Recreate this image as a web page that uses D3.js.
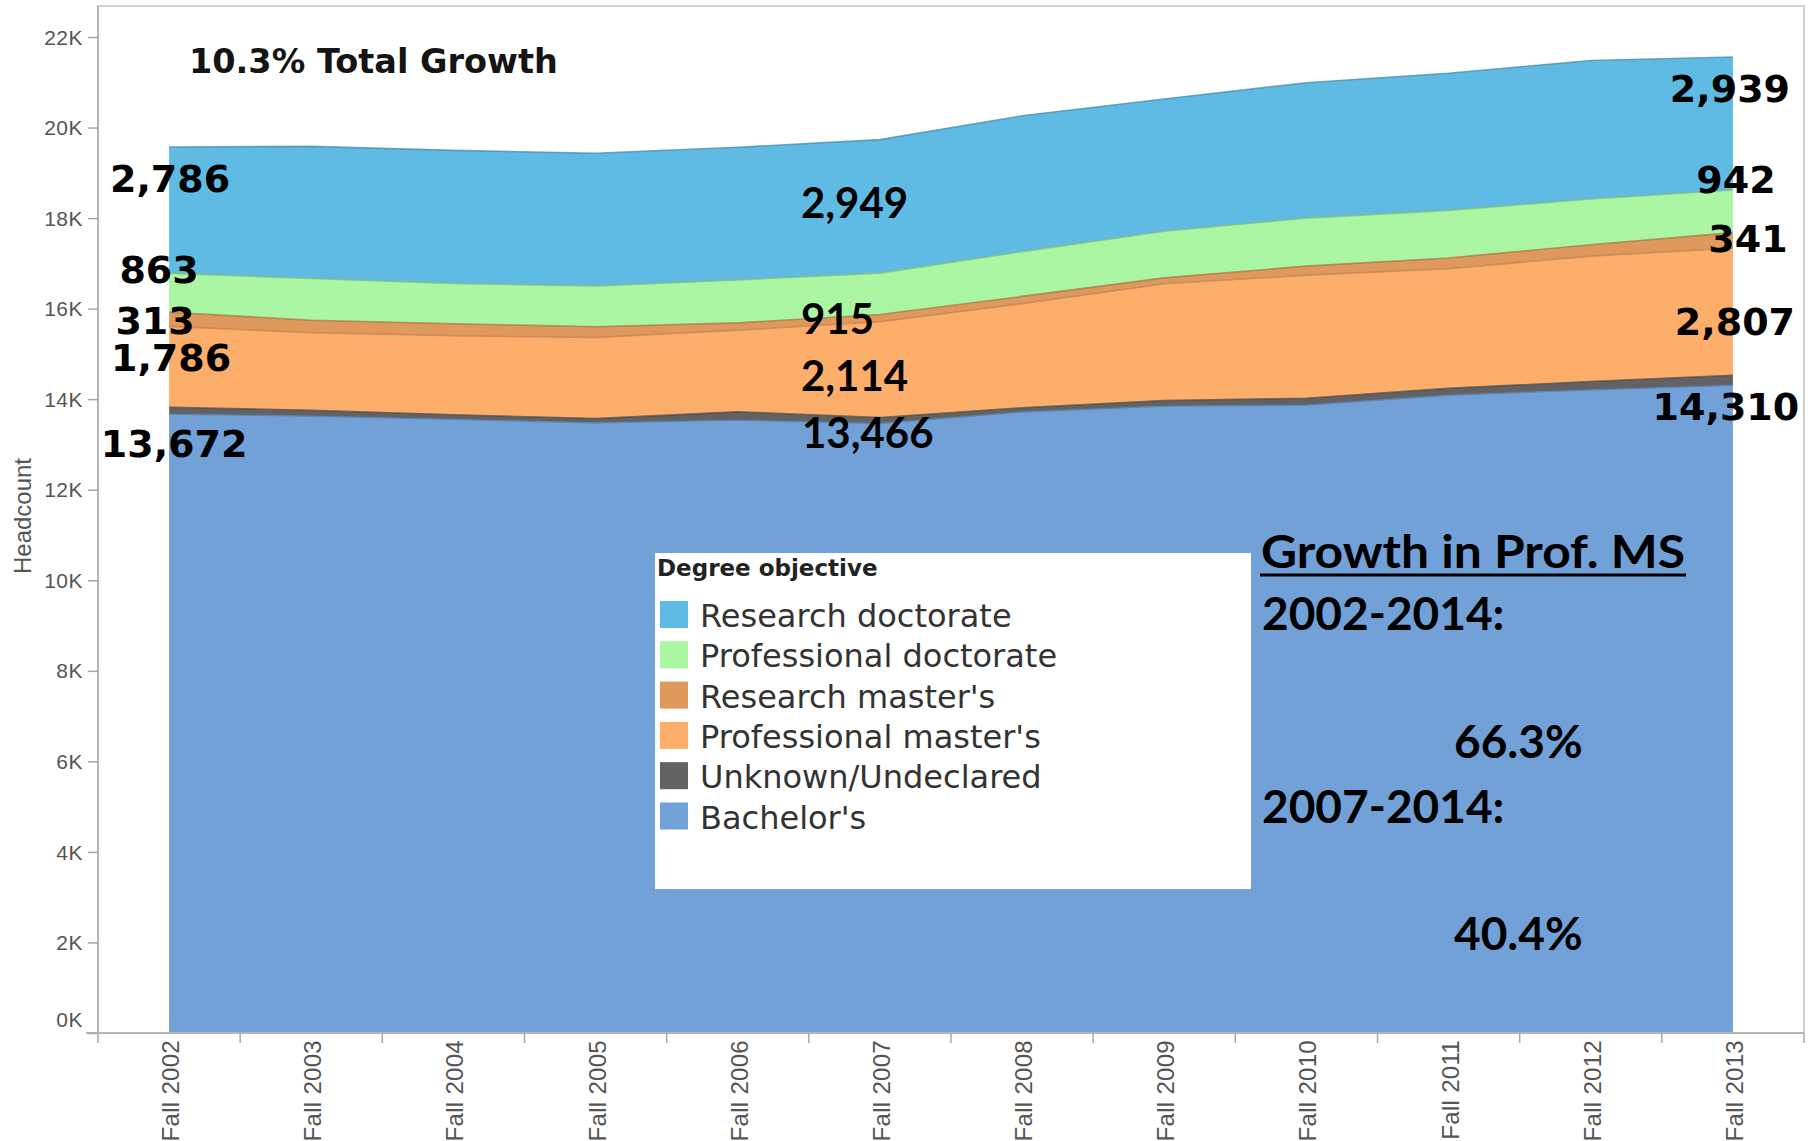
<!DOCTYPE html>
<html>
<head>
<meta charset="utf-8">
<script src="https://cdn.jsdelivr.net/npm/d3@7/dist/d3.min.js"></script>
<style>
  body { margin: 0; background: #ffffff; }
  svg { display: block; }
</style>
</head>
<body>
<svg id="chart" width="1811" height="1141"></svg>
<script>
// ---------------- DATA ----------------
const years = ["Fall 2002", "Fall 2003", "Fall 2004", "Fall 2005", "Fall 2006", "Fall 2007",
               "Fall 2008", "Fall 2009", "Fall 2010", "Fall 2011", "Fall 2012", "Fall 2013"];

const bachelors            = [13672, 13630, 13556, 13481, 13540, 13466, 13720, 13850, 13870, 14090, 14210, 14310];
const unknownUndeclared    = [  150,   125,   100,    90,   180,   130,    90,   120,   150,   150,   180,   220];
const professionalMasters  = [ 1786,  1715,  1745,  1790,  1805,  2114,  2300,  2580,  2720,  2640,  2770,  2807];
const researchMasters      = [  313,   275,   265,   240,   160,   160,   160,   130,   200,   240,   250,   341];
const professionalDoctorate= [  863,   920,   890,   900,   950,   915,   990,  1030,  1060,  1050,  1010,   942];
const researchDoctorate    = [ 2786,  2920,  2940,  2930,  2930,  2949,  3000,  2920,  2990,  3030,  3060,  2939];

const seriesNames  = ["Research doctorate", "Professional doctorate", "Research master's",
                      "Professional master's", "Unknown/Undeclared", "Bachelor's"];
const seriesColors = ["#5fbbe3", "#aaf6a3", "#e0995c", "#feae6b", "#626262", "#72a1d8"];

const yTickValues = [0, 2000, 4000, 6000, 8000, 10000, 12000, 14000, 16000, 18000, 20000, 22000];
const yTickLabels = ["0K", "2K", "4K", "6K", "8K", "10K", "12K", "14K", "16K", "18K", "20K", "22K"];

const titleText = "10.3% Total Growth";
const yAxisTitle = "Headcount";
const legendTitle = "Degree objective";
const growthLines = ["Growth in Prof. MS", "2002-2014:", "66.3%", "2007-2014:", "40.4%"];

// ---------------- BUILD TABLE ----------------
const keys = ["bach", "unk", "pms", "rms", "pd", "rd"];           // stacking order bottom -> top
const arrays = { bach: bachelors, unk: unknownUndeclared, pms: professionalMasters,
                 rms: researchMasters, pd: professionalDoctorate, rd: researchDoctorate };
const keyColor = { rd: seriesColors[0], pd: seriesColors[1], rms: seriesColors[2],
                   pms: seriesColors[3], unk: seriesColors[4], bach: seriesColors[5] };
const table = years.map((yr, i) => {
  const row = { year: yr };
  keys.forEach(k => row[k] = arrays[k][i]);
  return row;
});

// ---------------- LAYOUT ----------------
const svg = d3.select("#chart");
const plot = { left: 98, right: 1804, top: 6, bottom: 1033 };

const x = d3.scalePoint().domain(years).range([plot.left, plot.right]).padding(0.5);
const y = d3.scaleLinear().domain([0, 22000]).range([plot.bottom, 37]);
const step = x.step();

// frame
svg.append("rect")
  .attr("x", plot.left).attr("y", plot.top)
  .attr("width", plot.right - plot.left).attr("height", plot.bottom - plot.top)
  .attr("fill", "#ffffff").attr("stroke", "#d2d2d2").attr("stroke-width", 2);

// stacked areas
const stacked = d3.stack().keys(keys)(table);
const area = d3.area()
  .x(d => x(d.data.year))
  .y0(d => y(d[0]))
  .y1(d => y(d[1]))
  .curve(d3.curveLinear);
const topLine = d3.line()
  .x(d => x(d.data.year))
  .y(d => y(d[1]))
  .curve(d3.curveLinear);

svg.append("g").selectAll("path.area")
  .data(stacked).join("path")
  .attr("class", "area")
  .attr("d", area)
  .attr("fill", s => keyColor[s.key]);

svg.append("g").selectAll("path.edge")
  .data(stacked).join("path")
  .attr("class", "edge")
  .attr("d", topLine)
  .attr("fill", "none")
  .attr("stroke", s => d3.color(keyColor[s.key]).darker(0.8))
  .attr("stroke-width", 1.6)
  .attr("stroke-opacity", 0.75);

// left axis line
svg.append("line")
  .attr("x1", plot.left).attr("x2", plot.left)
  .attr("y1", plot.top).attr("y2", plot.bottom)
  .attr("stroke", "#b4b4b4").attr("stroke-width", 2);
// bottom axis line
svg.append("line")
  .attr("x1", 86).attr("x2", plot.right)
  .attr("y1", plot.bottom).attr("y2", plot.bottom)
  .attr("stroke", "#b4b4b4").attr("stroke-width", 2);

// y axis
const yAxis = d3.axisLeft(y)
  .tickValues(yTickValues)
  .tickFormat((d, i) => yTickLabels[i])
  .tickSize(10)
  .tickPadding(5);
const gy = svg.append("g").attr("transform", `translate(${plot.left},0)`).call(yAxis);
gy.select(".domain").remove();
gy.selectAll(".tick line").attr("stroke", "#a8a8a8").attr("stroke-width", 1.5);
gy.selectAll(".tick text")
  .attr("font-family", "'Liberation Sans', Arial, sans-serif")
  .attr("font-size", 21)
  .attr("letter-spacing", 0.5)
  .attr("fill", "#555")
  .attr("dy", (d) => d === 0 ? "-0.32em" : "0.34em");

// x axis ticks at category boundaries
const boundaries = years.map(yr => x(yr) - step / 2).concat([x(years[years.length - 1]) + step / 2]);
svg.append("g").selectAll("line")
  .data(boundaries).join("line")
  .attr("x1", d => d).attr("x2", d => d)
  .attr("y1", plot.bottom).attr("y2", plot.bottom + 10)
  .attr("stroke", "#a8a8a8").attr("stroke-width", 1.5);

// x axis labels (rotated)
svg.append("g").selectAll("text")
  .data(years).join("text")
  .attr("transform", d => `translate(${x(d) + 10},${plot.bottom + 7}) rotate(-90)`)
  .attr("text-anchor", "end")
  .attr("font-family", "'Liberation Sans', Arial, sans-serif")
  .attr("font-size", 24)
  .attr("letter-spacing", 0.3)
  .attr("fill", "#555")
  .text(d => d);

// y axis title
svg.append("text")
  .attr("transform", `translate(31,516) rotate(-90)`)
  .attr("text-anchor", "middle")
  .attr("font-family", "'Liberation Sans', Arial, sans-serif")
  .attr("font-size", 24)
  .attr("fill", "#555")
  .text(yAxisTitle);

// chart title annotation
svg.append("text")
  .attr("x", 189).attr("y", 73)
  .attr("font-family", "'DejaVu Sans', Verdana, sans-serif")
  .attr("font-weight", "bold")
  .attr("font-size", 33.5)
  .attr("fill", "#141414")
  .text(titleText);

// ---------------- VALUE LABELS ----------------
const fmt = d3.format(",");
const seriesByKey = {};
stacked.forEach(s => seriesByKey[s.key] = s);
function topY(key, yr) {
  const i = years.indexOf(yr);
  return y(seriesByKey[key][i][1]);
}
function val(key, yr) { return arrays[key][years.indexOf(yr)]; }

// label placement relative to each band's upper edge
const labelGroups = [
  { year: "Fall 2002", font: "'DejaVu Sans', Verdana, sans-serif", size: 38, anchor: "middle",
    items: [ { key: "rd", dx: 1, dy: 45 }, { key: "pd", dx: -10, dy: 10 }, { key: "rms", dx: -14, dy: 22 },
             { key: "pms", dx: 2, dy: 45 }, { key: "bach", dx: 5, dy: 43 } ] },
  { year: "Fall 2007", font: "Lato, 'Open Sans', sans-serif", size: 42, anchor: "start",
    items: [ { key: "rd", dx: -79, dy: 78 }, { key: "pd", dx: -79, dy: 61 },
             { key: "pms", dx: -79, dy: 69 }, { key: "bach", dx: -78, dy: 25 } ] },
  { year: "Fall 2013", font: "'DejaVu Sans', Verdana, sans-serif", size: 38, anchor: "middle",
    items: [ { key: "rd", dx: -3, dy: 45 }, { key: "pd", dx: 3, dy: 3 }, { key: "rms", dx: 15, dy: 19 },
             { key: "pms", dx: 2, dy: 87 }, { key: "bach", dx: -7, dy: 35 } ] }
];
const gl = svg.append("g");
labelGroups.forEach(g => {
  gl.selectAll(null)
    .data(g.items).join("text")
    .attr("x", d => x(g.year) + d.dx)
    .attr("y", d => topY(d.key, g.year) + d.dy)
    .attr("text-anchor", g.anchor)
    .attr("font-family", g.font)
    .attr("font-weight", "bold")
    .attr("font-size", g.size)
    .attr("fill", "#000")
    .text(d => fmt(val(d.key, g.year)));
});

// ---------------- LEGEND ----------------
const legend = svg.append("g");
legend.append("rect")
  .attr("x", 655).attr("y", 553).attr("width", 596).attr("height", 336)
  .attr("fill", "#ffffff");
legend.append("text")
  .attr("x", 657).attr("y", 576)
  .attr("font-family", "'DejaVu Sans', Verdana, sans-serif")
  .attr("font-weight", "bold")
  .attr("font-size", 23)
  .attr("fill", "#222")
  .text(legendTitle);
const legendItems = legend.selectAll("g.item")
  .data(seriesNames).join("g")
  .attr("class", "item")
  .attr("transform", (d, i) => `translate(660,${627 + i * 40.3})`);
legendItems.append("rect")
  .attr("x", 0).attr("y", -26).attr("width", 28).attr("height", 27)
  .attr("fill", (d, i) => seriesColors[i]);
legendItems.append("text")
  .attr("x", 40).attr("y", 0)
  .attr("font-family", "'DejaVu Sans', Verdana, sans-serif")
  .attr("font-size", 32)
  .attr("fill", "#333")
  .text(d => d);

// ---------------- GROWTH NOTE ----------------
const note = svg.append("g")
  .attr("font-family", "Lato, 'Open Sans', sans-serif")
  .attr("font-weight", "bold")
  .attr("font-size", 46)
  .attr("fill", "#000");
const notePos = [[1261, 568], [1262, 630], [1454, 758], [1262, 823], [1454, 950]];
note.selectAll("text")
  .data(growthLines).join("text")
  .attr("x", (d, i) => notePos[i][0])
  .attr("y", (d, i) => notePos[i][1])
  .attr("textLength", (d, i) => i === 0 ? 424 : null)
  .attr("lengthAdjust", "spacingAndGlyphs")
  .text(d => d);
note.append("line")
  .attr("x1", 1260).attr("x2", 1686)
  .attr("y1", 575).attr("y2", 575)
  .attr("stroke", "#000").attr("stroke-width", 3);
</script>
</body>
</html>
